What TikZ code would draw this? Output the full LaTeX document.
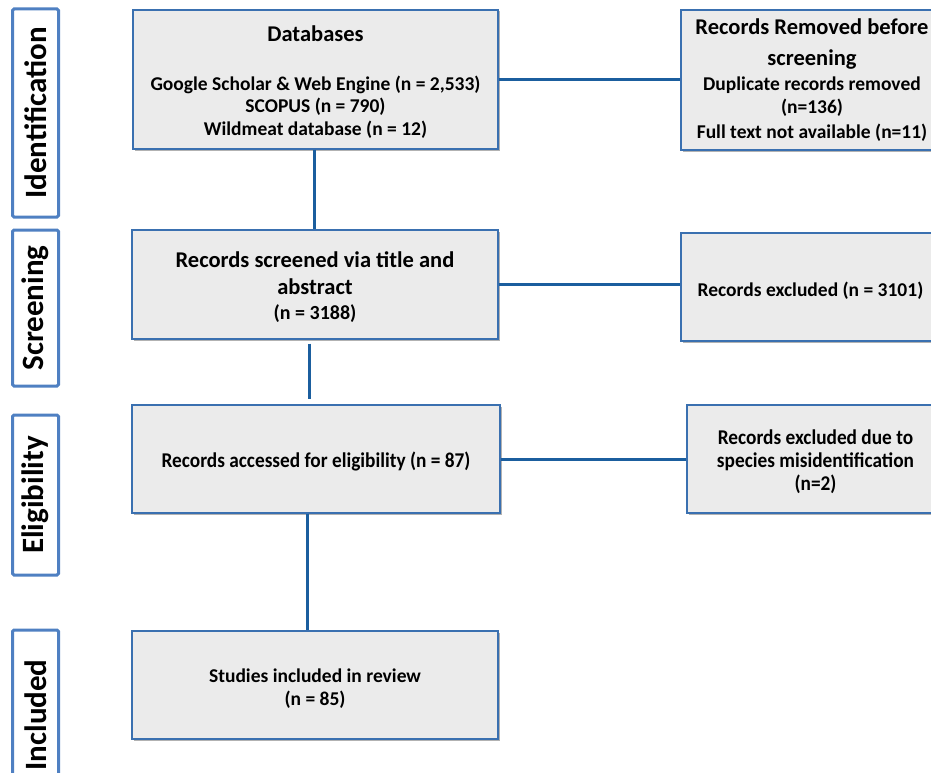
\documentclass[tikz,border=0pt]{standalone}
\usepackage{fontspec}
\setmainfont{Carlito}
\newfontfamily\narrowfont[FakeStretch=0.92]{Carlito}
\usetikzlibrary{shadows}
\definecolor{boxBlue}{HTML}{3A70B0}
\definecolor{stageBlue}{HTML}{4F80C2}
\definecolor{lineBlue}{HTML}{1B5E9E}
\definecolor{boxGray}{HTML}{EBEBEB}
\newcommand{\boxtitle}{\fontsize{22.5}{27}\selectfont}
\newcommand{\boxsmall}{\fontsize{19.5}{22.5}\selectfont}
\newcommand{\boxnarrow}{\narrowfont\fontsize{21}{23}\selectfont}
\newcommand{\topstrut}{\rule{0pt}{21pt}}

\begin{document}
\begin{tikzpicture}
[x=1pt,y=-1pt,
  lineDecorate/.style={draw=lineBlue,line width=3pt},%
  boxDecorate/.style={shape=rectangle,draw=boxBlue,fill=boxGray,line width=1.3pt,
    inner sep=0pt,align=center,font=\bfseries\boxsmall,
    drop shadow={shadow xshift=1.5pt,shadow yshift=-1.5pt,opacity=0.3,fill=black}},%
  stageDecorate/.style={shape=rectangle,draw=stageBlue,line width=3pt,rounded corners=1.5pt,
    rotate=90,inner sep=0pt,minimum height=46pt,font=\bfseries\fontsize{31}{31}\selectfont}]
\useasboundingbox (0,0) rectangle (931,773);
%% stage labels on the left
\foreach \nodename/\y/\len/\txt in {
  ident/113/208/Identification, screen/308/156/Screening,
  elig/495/160/Eligibility, incl/715/170/Included}
{
  \node (\nodename) at (35.5,\y) [stageDecorate,minimum width=\len pt] {\txt};
}
%% boxes
\node (db) at (315.5,79.5) [boxDecorate,minimum width=365pt,minimum height=139pt]
  {\topstrut{\boxtitle Databases}\\[26pt]
   Google Scholar \& Web Engine (n = 2,533)\\
   SCOPUS (n = 790)\\
   Wildmeat database (n = 12)};
\node (removed) at (812,80) [boxDecorate,minimum width=262pt,minimum height=140pt]
  {{\boxtitle Records Removed before}\\[8.5pt]
   {\boxtitle screening}\\[2.5pt]
   Duplicate records removed\\[0.5pt]
   (n=136)\\[2.5pt]
   Full text not available (n=11)};
\node (screened) at (315,284.5) [boxDecorate,minimum width=366pt,minimum height=109pt]
  {\topstrut{\boxtitle Records screened via title and}\\[4.5pt]
   {\boxtitle abstract}\\[2.5pt]
   {\fontsize{20}{22.5}\selectfont (n = 3188)}};
\node (excluded) at (810.5,287) [boxDecorate,minimum width=259pt,minimum height=108pt]
  {\topstrut Records excluded (n = 3101)};
\node (eligible) at (316,459) [boxDecorate,minimum width=368pt,minimum height=108pt,
  font=\bfseries\boxnarrow]
  {\topstrut Records accessed for eligibility (n = 87)};
\node (misid) at (815.5,459) [boxDecorate,minimum width=257pt,minimum height=108pt,
  font=\bfseries\boxnarrow]
  {\topstrut Records excluded due to\\
   species misidentification\\
   (n=2)};
\node (included) at (315,685) [boxDecorate,minimum width=366pt,minimum height=108pt]
  {\topstrut Studies included in review\\
   (n = 85)};
%% connectors
\foreach \startnode/\endnode in {db/removed, screened/excluded, eligible/misid}
{
  \draw[lineDecorate] (\startnode.east) -- (\startnode.east -| \endnode.west);
}
\draw[lineDecorate] ([xshift=-1.5pt]db.south) -- ([xshift=-1.5pt]db.south |- screened.north);
\draw[lineDecorate,shorten <=4pt,shorten >=5pt]
  ([xshift=-6pt]screened.south) -- ([xshift=-6pt]screened.south |- eligible.north);
\draw[lineDecorate] ([xshift=-8.5pt]eligible.south) -- ([xshift=-8.5pt]eligible.south |- included.north);
\end{tikzpicture}
\end{document}
